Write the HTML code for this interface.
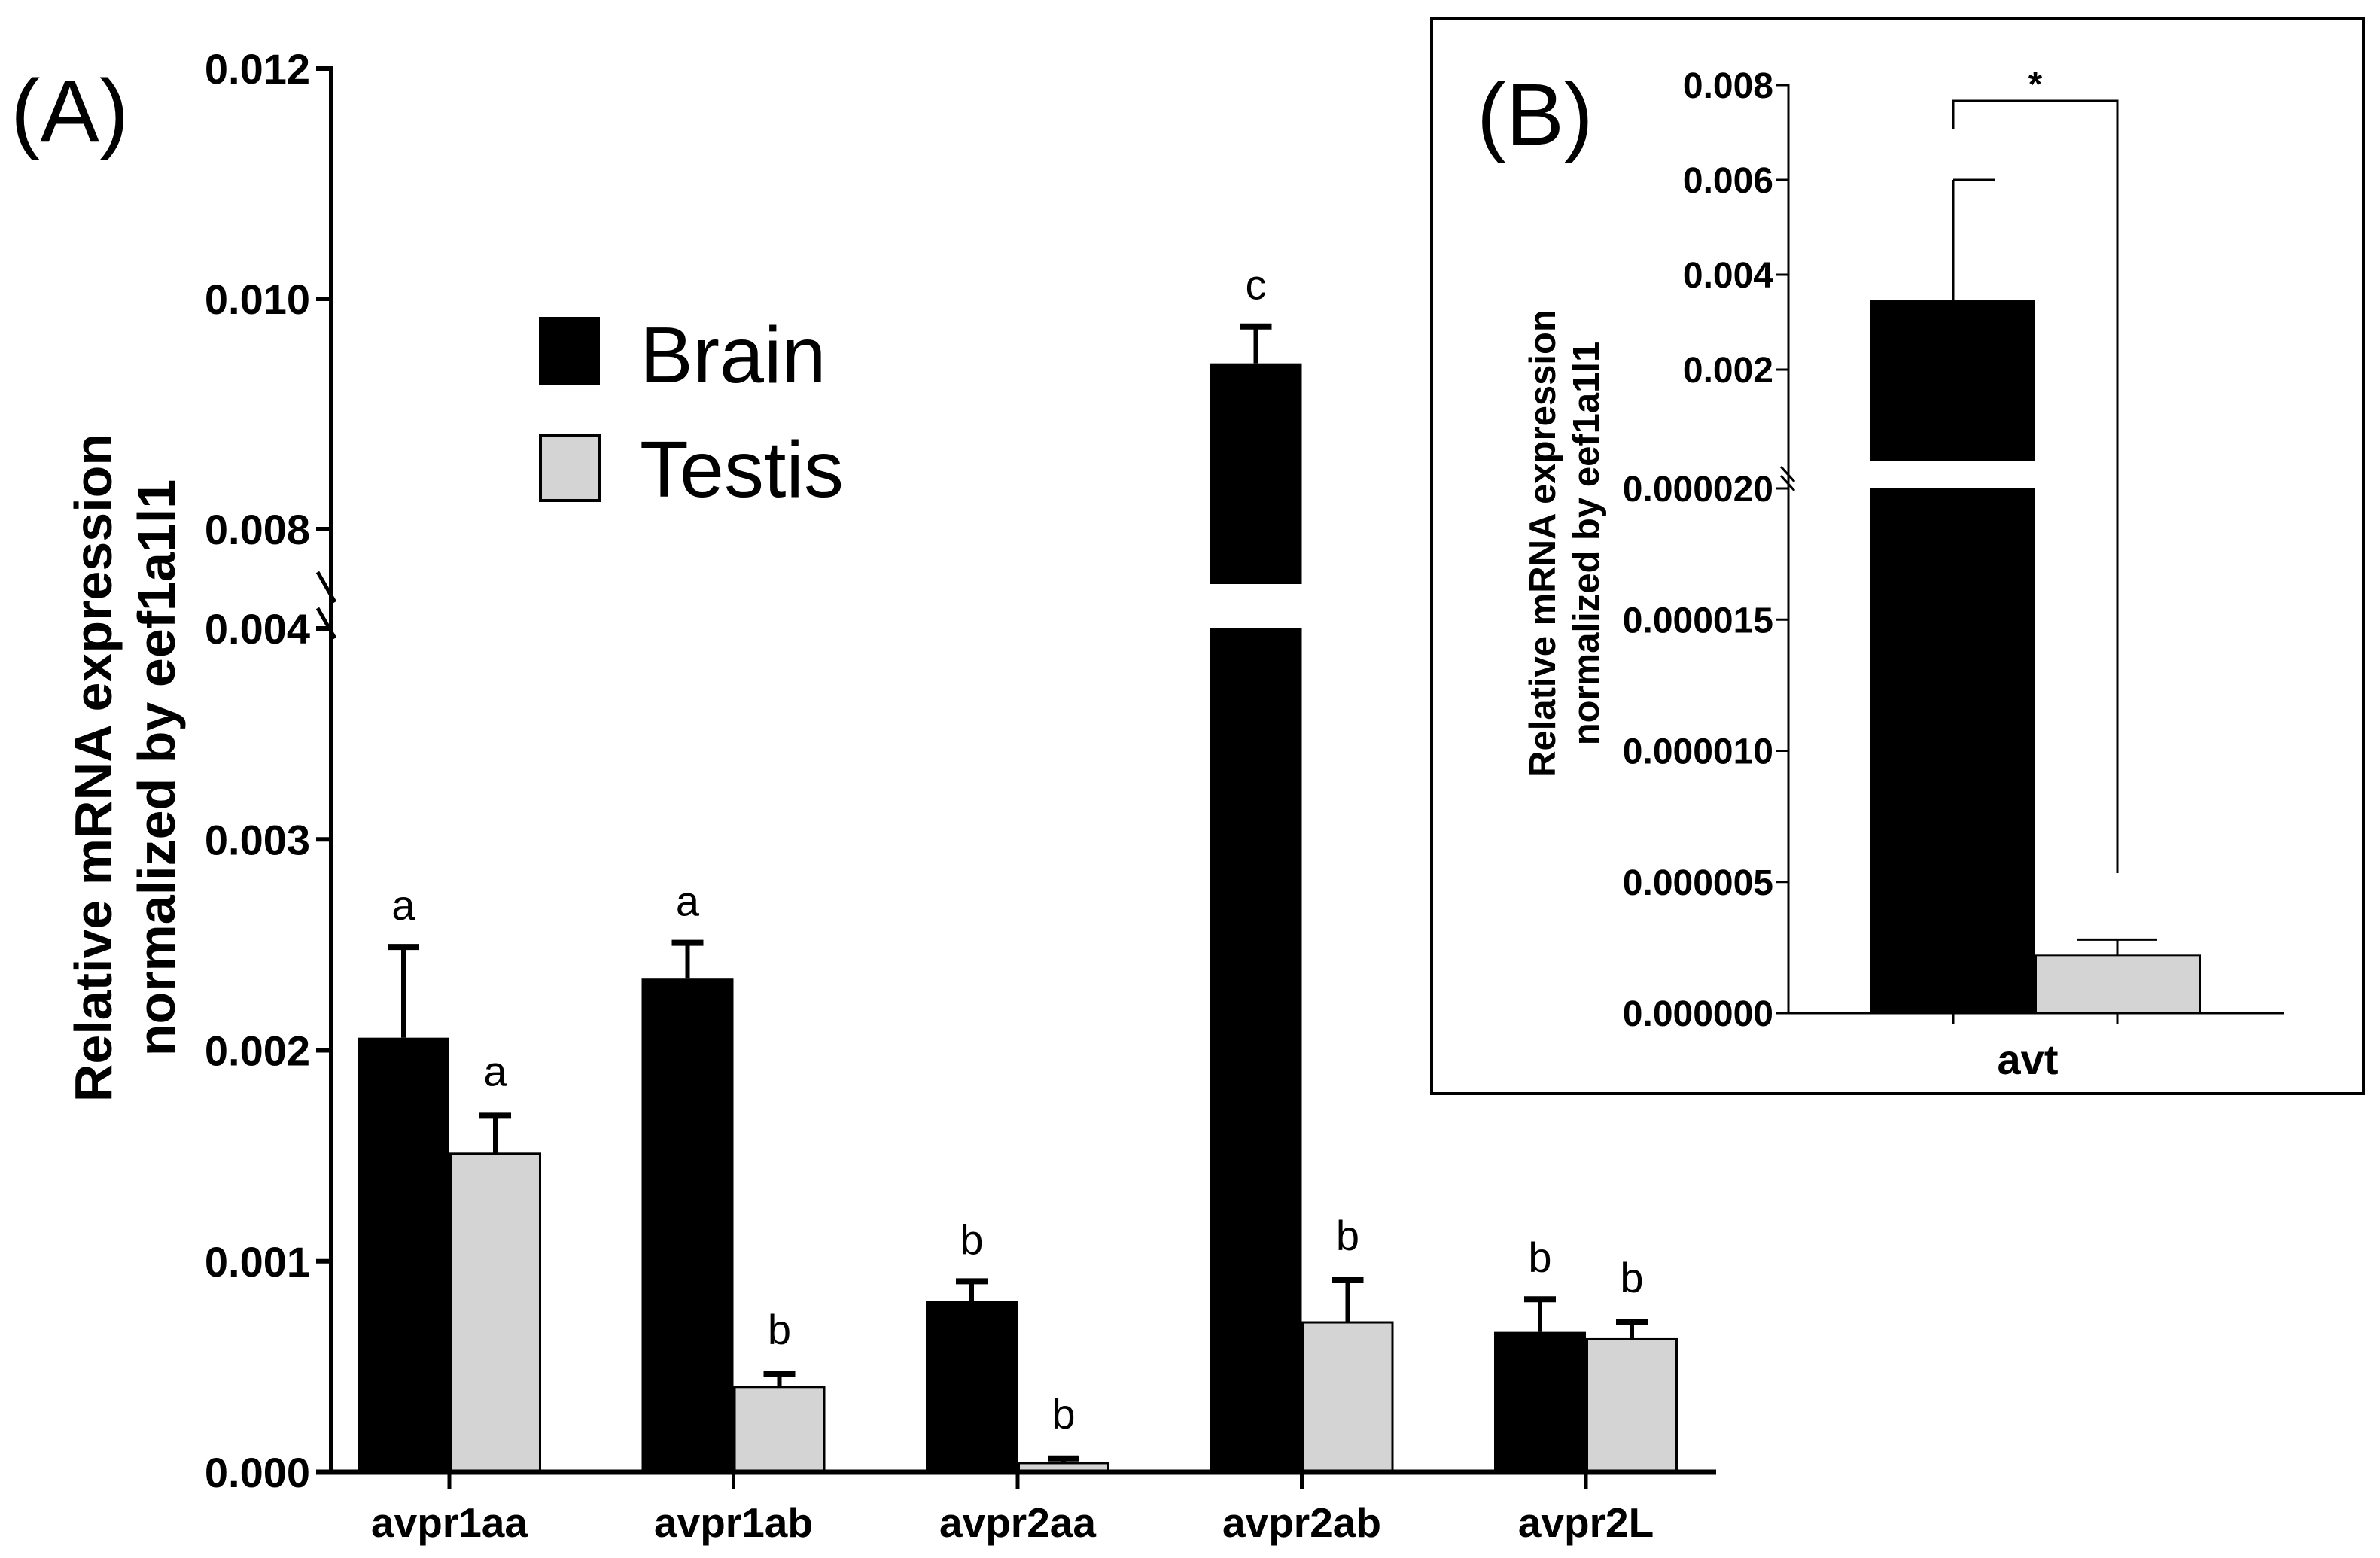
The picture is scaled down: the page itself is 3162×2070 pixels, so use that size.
<!DOCTYPE html>
<html><head><meta charset="utf-8"><style>
html,body{margin:0;padding:0;background:#fff;}
svg{display:block;font-family:"Liberation Sans",Arial,sans-serif;}
</style></head><body>
<svg id="fig" width="3162" height="2070" viewBox="0 0 3162 2070" xmlns="http://www.w3.org/2000/svg">
<rect width="3162" height="2070" fill="#fff"/>
<g id="panelA"></g>
<g id="panelB"></g>
</svg>
<script>
// Panel A data
const categoriesA = ["avpr1aa","avpr1ab","avpr2aa","avpr2ab","avpr2L"];
const brainA = [0.00206,0.00234,0.00081,0.00944,0.000665];
const brainErrA = [0.00249,0.00251,0.000905,0.00976,0.00082];
const testisA = [0.00151,0.000404,0.000043,0.00071,0.00063];
const testisErrA = [0.00169,0.000464,0.000065,0.00091,0.00071];
const brainLetters = ["a","a","b","c","b"];
const testisLetters = ["a","b","b","b","b"];
const lowTicksA = [0,0.001,0.002,0.003,0.004];
const lowTickLabelsA = ["0.000","0.001","0.002","0.003","0.004"];
const highTicksA = [0.008,0.010,0.012];
const highTickLabelsA = ["0.008","0.010","0.012"];
// Panel B data
const categoriesB = ["avt"];
const brainB = [0.00346];
const brainErrB = [0.006];
const testisB = [0.0000022];
const testisErrB = [0.0000028];
const lowTicksB = [0,0.000005,0.00001,0.000015,0.00002];
const lowTickLabelsB = ["0.000000","0.000005","0.000010","0.000015","0.000020"];
const highTicksB = [0.002,0.004,0.006,0.008];
const highTickLabelsB = ["0.002","0.004","0.006","0.008"];

const NS="http://www.w3.org/2000/svg";
function mk(tag,attrs,parent,text){const e=document.createElementNS(NS,tag);for(const k in attrs)e.setAttribute(k,attrs[k]);if(text!==undefined)e.textContent=text;parent.appendChild(e);return e;}

// ---------- Panel A ----------
(function(){
const g=document.getElementById('panelA');
const ax=440, y0=1956, xEnd=2280;
const lowMax=0.004, lowTop=835, highMin=0.008, highY=703, pxHigh=153000;
const gapTop=776;
function yA(v){ if(v<=lowMax) return y0-(v/lowMax)*(y0-lowTop); return highY-(v-highMin)*pxHigh; }
function xA(i){ return 597+i*377.5; }
const bw=122;
for(let i=0;i<categoriesA.length;i++){
  const cx=xA(i);
  const bv=brainA[i], by=yA(bv);
  const ey=yA(brainErrA[i]);
  let l=mk('line',{x1:cx-bw/2,x2:cx-bw/2,y1:ey,y2:by,stroke:'#000','stroke-width':6},g);
  
  
  l=mk('line',{x1:cx-bw/2-21,x2:cx-bw/2+21,y1:ey,y2:ey,stroke:'#000','stroke-width':8},g);
  
  
  if(bv>lowMax){
    let r=mk('rect',{x:cx-bw,y:by,width:bw,height:gapTop-by,fill:'#000'},g);
    
    
    r=mk('rect',{x:cx-bw,y:lowTop,width:bw,height:y0-lowTop,fill:'#000'},g);
    
    
  } else {
    let r=mk('rect',{x:cx-bw,y:by,width:bw,height:y0-by,fill:'#000'},g);
    
    
  }
  let t=mk('text',{x:cx-bw/2,y:ey-36,'text-anchor':'middle','font-size':56,fill:'#000'},g,brainLetters[i]);
  
  
  const tv=testisA[i], ty=yA(tv), tey=yA(testisErrA[i]);
  l=mk('line',{x1:cx+bw/2,x2:cx+bw/2,y1:tey,y2:ty,stroke:'#000','stroke-width':6},g);
  
  
  l=mk('line',{x1:cx+bw/2-21,x2:cx+bw/2+21,y1:tey,y2:tey,stroke:'#000','stroke-width':8},g);
  
  
  let r=mk('rect',{x:cx+1.5,y:ty,width:bw-3,height:y0-ty,fill:'#d4d4d4',stroke:'#000','stroke-width':3},g);
  
  
  t=mk('text',{x:cx+bw/2,y:tey-40,'text-anchor':'middle','font-size':56,fill:'#000'},g,testisLetters[i]);
  
  
  l=mk('line',{x1:cx,x2:cx,y1:y0,y2:y0+22,stroke:'#000','stroke-width':5},g);
  
  
  t=mk('text',{x:cx,y:2042,'text-anchor':'middle','font-size':55,'font-weight':'bold',fill:'#000'},g,categoriesA[i]);
  
  
}
let a=mk('line',{x1:ax,x2:ax,y1:88,y2:y0+3,stroke:'#000','stroke-width':6},g);


a=mk('line',{x1:ax-20,x2:xEnd,y1:y0,y2:y0,stroke:'#000','stroke-width':7},g);


let s=mk('line',{x1:ax-18,x2:ax+5,y1:760,y2:800,stroke:'#000','stroke-width':5},g);


s=mk('line',{x1:ax-18,x2:ax+5,y1:808,y2:848,stroke:'#000','stroke-width':5},g);


function tick(v,lab,i,kind){
  const y=yA(v);
  let l=mk('line',{x1:ax-20,x2:ax,y1:y,y2:y,stroke:'#000','stroke-width':6},g);
  
  
  let t=mk('text',{x:ax-28,y:y+20,'text-anchor':'end','font-size':56,'font-weight':'bold',fill:'#000'},g,lab);
  
  
}
lowTicksA.forEach((v,i)=>tick(v,lowTickLabelsA[i],i,'low'));
highTicksA.forEach((v,i)=>tick(v,highTickLabelsA[i],i,'high'));
})();

// ---------- Panel B ----------
(function(){
const g=document.getElementById('panelB');
const ax=2376, y0=1346, xEnd=3034;
const lowMax=0.00002, lowTop=649, hiY=491, hiV=0.002, pxHi=63000, gapTop=612;
function yB(v){ if(v<=lowMax) return y0-(v/lowMax)*(y0-lowTop); return hiY-(v-hiV)*pxHi; }
const bw=220;
const cx=2704;
const i=0;
const by=yB(brainB[i]), ey=yB(brainErrB[i]);
let l=mk('line',{x1:2595,x2:2595,y1:ey,y2:by,stroke:'#000','stroke-width':3},g);


l=mk('line',{x1:2595,x2:2650,y1:ey,y2:ey,stroke:'#000','stroke-width':3},g);


let r=mk('rect',{x:cx-bw,y:by,width:bw,height:gapTop-by,fill:'#000'},g);


r=mk('rect',{x:cx-bw,y:lowTop,width:bw,height:y0-lowTop,fill:'#000'},g);


const ty=yB(testisB[i]), tey=yB(testisErrB[i]);
l=mk('line',{x1:2813,x2:2813,y1:tey,y2:ty,stroke:'#000','stroke-width':3},g);


l=mk('line',{x1:2760,x2:2866,y1:tey,y2:tey,stroke:'#000','stroke-width':3},g);


r=mk('rect',{x:cx+1,y:ty,width:bw-2,height:y0-ty,fill:'#d4d4d4',stroke:'#000','stroke-width':2},g);


let p=mk('polyline',{points:'2595,172 2595,134 2813,134 2813,1160',fill:'none',stroke:'#000','stroke-width':3},g);


let t=mk('text',{x:2704,y:128,'text-anchor':'middle','font-size':48,'font-weight':'bold',fill:'#000'},g,'*');


let a=mk('line',{x1:ax,x2:ax,y1:112,y2:y0,stroke:'#000','stroke-width':3},g);


a=mk('line',{x1:ax-16,x2:xEnd,y1:y0,y2:y0,stroke:'#000','stroke-width':3},g);


let s=mk('line',{x1:ax-10,x2:ax+8,y1:620,y2:640,stroke:'#000','stroke-width':3},g);


s=mk('line',{x1:ax-10,x2:ax+8,y1:632,y2:652,stroke:'#000','stroke-width':3},g);


[2595,2813].forEach((x,k)=>{
  let tk=mk('line',{x1:x,x2:x,y1:y0,y2:y0+14,stroke:'#000','stroke-width':3},g);
  
  
});
t=mk('text',{x:2694,y:1427,'text-anchor':'middle','font-size':56,'font-weight':'bold',fill:'#000'},g,categoriesB[0]);


function tick(v,lab,k,kind){
  const y=yB(v);
  let l=mk('line',{x1:ax-16,x2:ax,y1:y,y2:y,stroke:'#000','stroke-width':3},g);
  
  
  let tt=mk('text',{x:ax-20,y:y+17,'text-anchor':'end','font-size':48,'font-weight':'bold',fill:'#000'},g,lab);
  
  
}
lowTicksB.forEach((v,k)=>tick(v,lowTickLabelsB[k],k,'low'));
highTicksB.forEach((v,k)=>tick(v,highTickLabelsB[k],k,'high'));
})();
</script>
<script>
(function(){
const svg=document.getElementById('fig');
const NS="http://www.w3.org/2000/svg";
function mk(tag,attrs,text){const e=document.createElementNS(NS,tag);for(const k in attrs)e.setAttribute(k,attrs[k]);if(text!==undefined)e.textContent=text;svg.appendChild(e);return e;}
let e=mk('text',{x:14,y:188,'font-size':118,fill:'#000'},'(A)');


e=mk('text',{transform:'translate(148,1020) rotate(-90)','text-anchor':'middle','font-size':70,'font-weight':'bold',fill:'#000'},'Relative mRNA expression');


e=mk('text',{transform:'translate(232,1020) rotate(-90)','text-anchor':'middle','font-size':70,'font-weight':'bold',fill:'#000'},'normalized by eef1a1l1');


e=mk('rect',{x:716,y:421,width:81,height:90,fill:'#000'});


e=mk('text',{x:850,y:508,'font-size':106,fill:'#000'},'Brain');


e=mk('rect',{x:718,y:578,width:78,height:87,fill:'#d4d4d4',stroke:'#000','stroke-width':4});


e=mk('text',{x:850,y:660,'font-size':106,fill:'#000'},'Testis');


e=mk('rect',{x:1902,y:25,width:1238,height:1428,fill:'none',stroke:'#000','stroke-width':4});


e=mk('text',{x:1962,y:192,'font-size':116,fill:'#000'},'(B)');


e=mk('text',{transform:'translate(2066,722) rotate(-90)','text-anchor':'middle','font-size':49,'font-weight':'bold',fill:'#000'},'Relative mRNA expression');


e=mk('text',{transform:'translate(2124,722) rotate(-90)','text-anchor':'middle','font-size':49,'font-weight':'bold',fill:'#000'},'normalized by eef1a1l1');


})();
</script>
</body></html>
